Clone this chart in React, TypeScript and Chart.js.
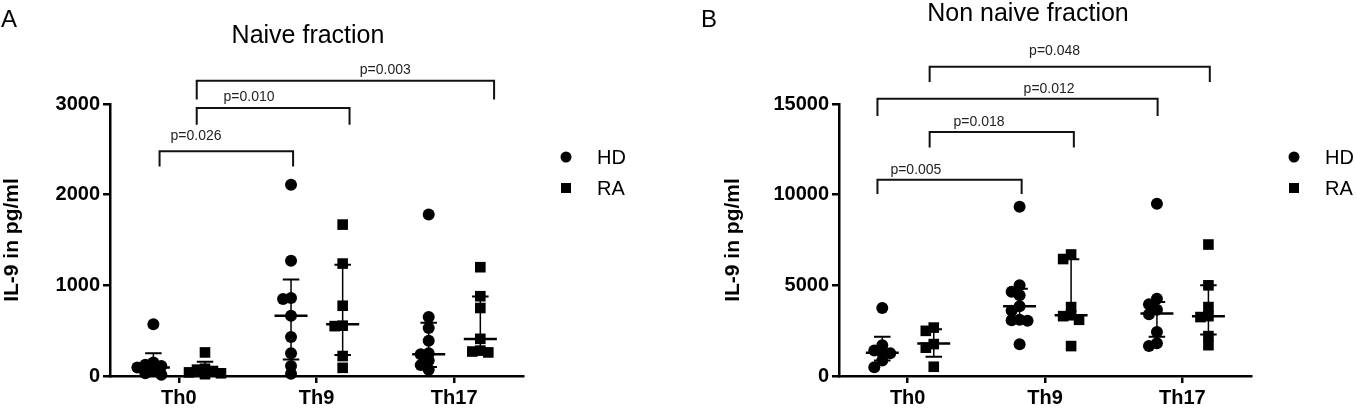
import React, { useEffect, useRef } from "react";
import { Chart, registerables } from "chart.js";

Chart.register(...registerables);

const FONT = '"Liberation Sans", Arial, Helvetica, sans-serif';
Chart.defaults.font.family = FONT;

const categories = ["Th0", "Th9", "Th17"];
const seriesNames = ["HD", "RA"];

// ---------- Panel A: naive fraction (IL-9 in pg/ml) ----------
const naiveHD_Th0 = [570, 150, 125, 110, 95, 60, 30, 15];
const naiveHD_Th9 = [2110, 1270, 860, 850, 665, 430, 250, 110, 25];
const naiveHD_Th17 = [1780, 650, 530, 390, 250, 240, 170, 120, 70];
const naiveRA_Th0 = [260, 80, 70, 55, 40, 30, 20];
const naiveRA_Th9 = [1670, 1240, 775, 555, 550, 220, 90];
const naiveRA_Th17 = [1200, 880, 750, 410, 280, 270, 260];

const naiveHD_median = [95, 664, 241];
const naiveHD_q1 = [20, 183, 100];
const naiveHD_q3 = [252, 1063, 588];
const naiveRA_median = [40, 572, 409];
const naiveRA_q1 = [10, 231, 300];
const naiveRA_q3 = [157, 1228, 876];

const naiveYTicks = [0, 1000, 2000, 3000];

const naivePLabels = ["p=0.026", "p=0.010", "p=0.003"];
const naiveBracketFrom = [0.86, 1.13, 1.13];
const naiveBracketTo = [1.83, 2.24, 3.29];
const naiveBracketTop = [2480, 2956, 3256];
const naiveBracketFoot = [2310, 2770, 3050];
const naiveLabelX = [1.125, 1.51, 2.5];
const naiveLabelY = [2640, 3075, 3370];

// ---------- Panel B: non naive fraction ----------
const nonNaiveHD_Th0 = [3750, 1700, 1400, 1280, 1250, 850, 480];
const nonNaiveHD_Th9 = [9330, 5000, 4650, 4450, 3850, 3600, 3100, 3080, 3050, 1750];
const nonNaiveHD_Th17 = [9500, 4260, 3950, 3650, 3400, 2430, 1800, 1650];
const nonNaiveRA_Th0 = [2670, 2490, 1760, 1560, 510];
const nonNaiveRA_Th9 = [6700, 6450, 3800, 3350, 3300, 3100, 1650];
const nonNaiveRA_Th17 = [7250, 5000, 3800, 3300, 3250, 2200, 1700];

const nonNaiveHD_median = [1280, 3840, 3440];
const nonNaiveHD_q1 = [850, 3100, 2160];
const nonNaiveHD_q3 = [2160, 4810, 4080];
const nonNaiveRA_median = [1790, 3350, 3300];
const nonNaiveRA_q1 = [1060, 3300, 2290];
const nonNaiveRA_q3 = [2580, 6440, 5000];

const nonNaiveYTicks = [0, 5000, 10000, 15000];

const nonNaivePLabels = ["p=0.005", "p=0.018", "p=0.012", "p=0.048"];
const nonNaiveBracketFrom = [0.78, 1.16, 0.78, 1.16];
const nonNaiveBracketTo = [1.83, 2.21, 2.82, 3.2];
const nonNaiveBracketTop = [10824, 13462, 15293, 17051];
const nonNaiveBracketFoot = [10037, 12600, 14340, 16209];
const nonNaiveLabelX = [1.06, 1.52, 2.03, 2.07];
const nonNaiveLabelY = [11374, 13974, 15806, 17912];

// ---------- layout constants ----------
const GROUP_OFFSET = [-0.185, 0.19]; // HD, RA
const PX_PER_X = 137;
const PLOT_H = 272;

type Pt = { x: number; y: number | null };

function swarm(values: number[], center: number, yMax: number): Pt[] {
  const pxY = PLOT_H / yMax;
  const step = 0.058;
  const D = 7;
  const placed: { x: number; y: number }[] = [];
  const sorted = [...values].sort((a, b) => b - a);
  const cands = [0, -1, 1, -2, 2];
  for (const v of sorted) {
    let best = center;
    let bestD = -1;
    let done = false;
    for (const k of cands) {
      const x = center + k * step;
      const minD = placed.reduce(
        (m, p) => Math.min(m, Math.hypot((p.x - x) * PX_PER_X, (p.y - v) * pxY)),
        Infinity
      );
      if (minD >= D) {
        placed.push({ x, y: v });
        done = true;
        break;
      }
      if (minD > bestD) {
        bestD = minD;
        best = x;
      }
    }
    if (!done) placed.push({ x: best, y: v });
  }
  return placed;
}

type PanelCfg = {
  hd: number[][];
  ra: number[][];
  hdMed: number[];
  hdQ1: number[];
  hdQ3: number[];
  raMed: number[];
  raQ1: number[];
  raQ3: number[];
  yTicks: number[];
  pLabels: string[];
  bFrom: number[];
  bTo: number[];
  bTop: number[];
  bFoot: number[];
  lx: number[];
  ly: number[];
  title: string;
  titleX: number;
  titleY: number;
  letter: string;
  letterX: number;
  padLeft: number;
  axisW: number;
  padRight: number;
};

function buildDatasets(cfg: PanelCfg) {
  const yMax = cfg.yTicks[cfg.yTicks.length - 1];
  const hdPts: Pt[] = [];
  const raPts: Pt[] = [];
  cfg.hd.forEach((vals, i) => hdPts.push(...swarm(vals, i + 1 + GROUP_OFFSET[0], yMax)));
  cfg.ra.forEach((vals, i) => raPts.push(...swarm(vals, i + 1 + GROUP_OFFSET[1], yMax)));

  const med: Pt[] = [];
  const iqr: Pt[] = [];
  const caps: Pt[] = [];
  const addStats = (m: number[], q1: number[], q3: number[], off: number) => {
    categories.forEach((_, i) => {
      const c = i + 1 + off;
      med.push({ x: c - 0.12, y: m[i] }, { x: c + 0.12, y: m[i] }, { x: c, y: null });
      iqr.push({ x: c, y: q1[i] }, { x: c, y: q3[i] }, { x: c, y: null });
      caps.push({ x: c - 0.06, y: q1[i] }, { x: c + 0.06, y: q1[i] }, { x: c, y: null });
      caps.push({ x: c - 0.06, y: q3[i] }, { x: c + 0.06, y: q3[i] }, { x: c, y: null });
    });
  };
  addStats(cfg.hdMed, cfg.hdQ1, cfg.hdQ3, GROUP_OFFSET[0]);
  addStats(cfg.raMed, cfg.raQ1, cfg.raQ3, GROUP_OFFSET[1]);

  const brackets: Pt[] = [];
  cfg.pLabels.forEach((_, i) => {
    brackets.push(
      { x: cfg.bFrom[i], y: cfg.bFoot[i] },
      { x: cfg.bFrom[i], y: cfg.bTop[i] },
      { x: cfg.bTo[i], y: cfg.bTop[i] },
      { x: cfg.bTo[i], y: cfg.bFoot[i] },
      { x: cfg.bTo[i], y: null }
    );
  });

  const lineBase = {
    type: "line" as const,
    borderColor: "#000",
    pointRadius: 0,
    spanGaps: false,
    fill: false,
    clip: false as any,
    tension: 0,
  };

  return [
    {
      label: seriesNames[0],
      data: hdPts,
      pointStyle: "circle",
      pointRadius: 6,
      backgroundColor: "#000",
      borderColor: "#000",
      borderWidth: 0,
      clip: false as any,
    },
    {
      label: seriesNames[1],
      data: raPts,
      pointStyle: "rect",
      pointRadius: 7.5,
      backgroundColor: "#000",
      borderColor: "#000",
      borderWidth: 0,
      clip: false as any,
    },
    { ...lineBase, label: "median", data: med, borderWidth: 2.5 },
    { ...lineBase, label: "iqr", data: iqr, borderWidth: 1.5 },
    { ...lineBase, label: "caps", data: caps, borderWidth: 2 },
    { ...lineBase, label: "brackets", data: brackets, borderWidth: 2, borderColor: "#111" },
  ];
}

function makeAnnotPlugin(cfg: PanelCfg) {
  return {
    id: "annot",
    afterDatasetsDraw(chart: any) {
      const { ctx, scales, chartArea } = chart;
      const x = scales.x;
      const y = scales.y;
      ctx.save();
      // p-value labels
      ctx.font = `14px ${FONT}`;
      ctx.fillStyle = "#222";
      ctx.textAlign = "center";
      ctx.textBaseline = "middle";
      cfg.pLabels.forEach((t, i) => {
        ctx.fillText(t, x.getPixelForValue(cfg.lx[i]), y.getPixelForValue(cfg.ly[i]));
      });
      // title
      ctx.fillStyle = "#000";
      ctx.font = `25px ${FONT}`;
      ctx.textBaseline = "alphabetic";
      ctx.fillText(cfg.title, cfg.titleX, cfg.titleY);
      // panel letter
      ctx.textAlign = "left";
      ctx.font = `24px ${FONT}`;
      ctx.fillText(cfg.letter, cfg.letterX, 27);
      // legend
      const mx = chartArea.right + 43;
      const tx = chartArea.right + 74;
      ctx.beginPath();
      ctx.arc(mx, 157, 5.5, 0, Math.PI * 2);
      ctx.fill();
      ctx.fillRect(mx - 5, 188 - 5, 10, 10);
      ctx.font = `20px ${FONT}`;
      ctx.textBaseline = "middle";
      ctx.fillText(seriesNames[0], tx, 158);
      ctx.fillText(seriesNames[1], tx, 189);
      ctx.restore();
    },
  };
}

function Panel({ cfg, left, width }: { cfg: PanelCfg; left: number; width: number }) {
  const ref = useRef<HTMLCanvasElement>(null);
  useEffect(() => {
    const yMax = cfg.yTicks[cfg.yTicks.length - 1];
    const chart = new Chart(ref.current as HTMLCanvasElement, {
      type: "scatter",
      data: { datasets: buildDatasets(cfg) as any },
      options: {
        responsive: false,
        animation: false,
        devicePixelRatio: 1,
        layout: { padding: { top: 104, left: cfg.padLeft, right: cfg.padRight, bottom: 0 } },
        plugins: { legend: { display: false }, tooltip: { enabled: false }, title: { display: false } },
        scales: {
          x: {
            type: "linear",
            min: 0.5,
            max: 3.5,
            afterBuildTicks: (s: any) => {
              s.ticks = categories.map((_, i) => ({ value: i + 1 }));
            },
            afterFit: (s: any) => {
              s.height = 33;
            },
            ticks: {
              callback: (v: any) => categories[Math.round(v) - 1] ?? "",
              font: { size: 20, weight: "bold" },
              color: "#000",
              padding: 3,
              maxRotation: 0,
            },
            grid: { display: true, drawOnChartArea: false, drawTicks: true, tickLength: 7, lineWidth: 2.5, color: "#000" },
            border: { display: true, width: 2.5, color: "#000" },
          },
          y: {
            type: "linear",
            min: 0,
            max: yMax,
            afterBuildTicks: (s: any) => {
              s.ticks = cfg.yTicks.map((v) => ({ value: v }));
            },
            afterFit: (s: any) => {
              s.width = cfg.axisW;
            },
            ticks: {
              font: { size: 20, weight: "bold" },
              color: "#000",
              padding: 3,
              callback: (v: any) => String(v),
            },
            title: {
              display: true,
              text: "IL-9 in pg/ml",
              font: { size: 21, weight: "bold" },
              color: "#000",
              padding: { top: 0, bottom: 0 },
            },
            grid: { display: true, drawOnChartArea: false, drawTicks: true, tickLength: 7, lineWidth: 2.5, color: "#000" },
            border: { display: true, width: 2.5, color: "#000" },
          },
        },
      },
      plugins: [makeAnnotPlugin(cfg)],
    } as any);
    return () => chart.destroy();
  }, []);
  return (
    <canvas
      ref={ref}
      width={width}
      height={409}
      style={{ position: "absolute", left, top: 0, width, height: 409 }}
    />
  );
}

const panelA: PanelCfg = {
  hd: [naiveHD_Th0, naiveHD_Th9, naiveHD_Th17],
  ra: [naiveRA_Th0, naiveRA_Th9, naiveRA_Th17],
  hdMed: naiveHD_median,
  hdQ1: naiveHD_q1,
  hdQ3: naiveHD_q3,
  raMed: naiveRA_median,
  raQ1: naiveRA_q1,
  raQ3: naiveRA_q3,
  yTicks: naiveYTicks,
  pLabels: naivePLabels,
  bFrom: naiveBracketFrom,
  bTo: naiveBracketTo,
  bTop: naiveBracketTop,
  bFoot: naiveBracketFoot,
  lx: naiveLabelX,
  ly: naiveLabelY,
  title: "Naive fraction",
  titleX: 308,
  titleY: 43,
  letter: "A",
  letterX: 1,
  padLeft: 0,
  axisW: 110,
  padRight: 157,
};

const panelB: PanelCfg = {
  hd: [nonNaiveHD_Th0, nonNaiveHD_Th9, nonNaiveHD_Th17],
  ra: [nonNaiveRA_Th0, nonNaiveRA_Th9, nonNaiveRA_Th17],
  hdMed: nonNaiveHD_median,
  hdQ1: nonNaiveHD_q1,
  hdQ3: nonNaiveHD_q3,
  raMed: nonNaiveRA_median,
  raQ1: nonNaiveRA_q1,
  raQ3: nonNaiveRA_q3,
  yTicks: nonNaiveYTicks,
  pLabels: nonNaivePLabels,
  bFrom: nonNaiveBracketFrom,
  bTo: nonNaiveBracketTo,
  bTop: nonNaiveBracketTop,
  bFoot: nonNaiveBracketFoot,
  lx: nonNaiveLabelX,
  ly: nonNaiveLabelY,
  title: "Non naive fraction",
  titleX: 348,
  titleY: 21,
  letter: "B",
  letterX: 21,
  padLeft: 41,
  axisW: 118,
  padRight: 106,
};

export default function App() {
  return (
    <div style={{ position: "absolute", left: 0, top: 0, width: 1357, height: 409, background: "#fff" }}>
      <Panel cfg={panelA} left={0} width={680} />
      <Panel cfg={panelB} left={680} width={677} />
    </div>
  );
}
